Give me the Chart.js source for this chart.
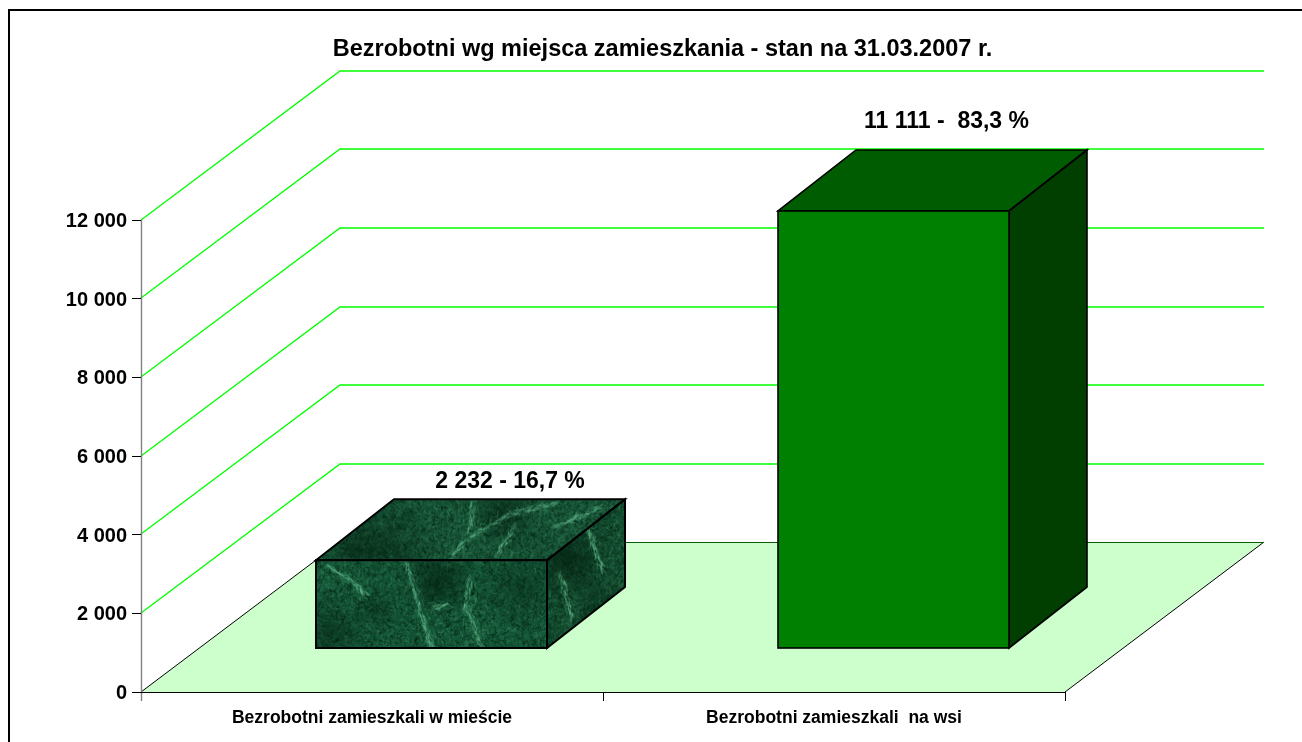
<!DOCTYPE html>
<html><head><meta charset="utf-8">
<style>html,body{margin:0;padding:0;background:#fff;overflow:hidden}canvas{display:block}</style>
<script src="https://cdn.jsdelivr.net/npm/chart.js@4"></script></head>
<body><div style="position:relative;width:1302px;height:742px"><canvas id="c" width="1302" height="742"></canvas></div>
<script>
const categories = ['Bezrobotni zamieszkali w mieście', 'Bezrobotni zamieszkali  na wsi'];
const values = [2232, 11111];
const valueLabels = ['2 232 - 16,7 %', '11 111 -  83,3 %'];
const yTicks = [0, 2000, 4000, 6000, 8000, 10000, 12000];
const titleText = 'Bezrobotni wg miejsca zamieszkania - stan na 31.03.2007 r.';

const FONT = '"Liberation Sans", Arial, sans-serif';
const DEPTH = {x: 199, y: 149};
const BAR_SHIFT = {x: 59.5, y: -44};
const BAR_DEPTH = {x: 78, y: 61};

// decorative marble texture, seeded so it is the same on every run
function marble(w, h, veins, seed, base, blotches){
  const c = document.createElement('canvas'); c.width = w; c.height = h;
  const g = c.getContext('2d');
  g.fillStyle = base; g.fillRect(0,0,w,h);
  let s = seed; const r = () => (s = (s*16807)%2147483647)/2147483647;
  g.lineCap='round';
  const n=Math.round(w*h/3);
  for(let i=0;i<n;i++){
    const x=r()*w,y=r()*h,a=r()*Math.PI*2,l=1+r()*5;
    g.strokeStyle = r()<0.55 ? `rgba(2,34,16,${.12+r()*.34})` : `rgba(70,155,108,${.05+r()*.24})`;
    g.lineWidth=.5+r()*1;
    g.beginPath();g.moveTo(x,y);g.lineTo(x+Math.cos(a)*l,y+Math.sin(a)*l);g.stroke();
  }
  blotches.forEach(([x,y,rad,a])=>{
    const gr=g.createRadialGradient(x,y,0,x,y,rad);
    gr.addColorStop(0,`rgba(2,30,14,${a})`);gr.addColorStop(1,'rgba(2,30,14,0)');
    g.fillStyle=gr;g.fillRect(0,0,w,h);
  });
  veins.forEach(v=>{
    for(let k=1;k<v.length;k++){
      const [x0,y0]=v[k-1],[x1,y1]=v[k];
      const steps=Math.hypot(x1-x0,y1-y0)*2.4;
      for(let i=0;i<steps;i++){
        const narrow=i%2===0,sp=narrow?4:13;
        const t=i/steps,x=x0+(x1-x0)*t+(r()-.5)*sp,y=y0+(y1-y0)*t+(r()-.5)*sp,l=2+r()*5;
        g.strokeStyle=narrow?`rgba(115,205,160,${.12+r()*.3})`:`rgba(90,180,135,${.05+r()*.2})`;
        g.lineWidth=.5+r()*1;
        const a=Math.atan2(y1-y0,x1-x0)+(r()-.5)*(narrow?.9:2.2);
        g.beginPath();g.moveTo(x,y);g.lineTo(x+Math.cos(a)*l,y+Math.sin(a)*l);g.stroke();
      }
    }
  });
  const o=document.createElement('canvas');o.width=w;o.height=h;
  const og=o.getContext('2d');og.filter='blur(0.7px)';og.drawImage(c,0,0);
  return o;
}
const texFront = marble(231,88,
  [[[90,0],[100,35],[112,78],[118,88]],[[116,48],[130,46]],[[155,15],[150,45],[165,85]],[[10,5],[35,20],[50,35]]],
  12345,'#15583a',[[122,22,42,.7],[15,72,40,.5],[205,30,45,.4],[60,50,28,.35]]);
const texTop = marble(309,61,
  [[[134,58],[157,35],[197,14],[240,4]],[[180,58],[197,30]],[[157,4],[154,28]],[[235,30],[285,8]]],
  777,'#175438',[[70,45,50,.45],[190,15,35,.65],[40,50,30,.5]]);
const texSide = marble(78,150,
  [[[40,25],[55,70]],[[12,70],[25,120]]],
  4242,'#134b30',[[20,60,45,.7],[60,120,40,.4]]);

function path(ctx, pts){ctx.beginPath();pts.forEach((p,i)=>i?ctx.lineTo(p[0],p[1]):ctx.moveTo(p[0],p[1]));ctx.closePath();}

const scene3d = {
  id:'scene3d',
  beforeDatasetsDraw(chart){
    const {ctx,chartArea:a,scales:{y}} = chart;
    ctx.save();
    // frame: only the top and left edges are visible
    ctx.strokeStyle='#000';ctx.lineWidth=2;
    ctx.beginPath();ctx.moveTo(9,742);ctx.lineTo(9,10);ctx.lineTo(1302,10);ctx.stroke();
    // floor
    const fy=a.bottom-DEPTH.y-1;
    const f=[[a.left,a.bottom],[a.left+DEPTH.x,fy],[a.right+DEPTH.x,fy],[a.right,a.bottom]];
    path(ctx,f);ctx.fillStyle='#ccffcc';ctx.fill();
    ctx.lineWidth=1;ctx.strokeStyle='#000';
    ctx.beginPath();
    ctx.moveTo(a.left,a.bottom);ctx.lineTo(a.left+DEPTH.x,fy);
    ctx.moveTo(a.right+DEPTH.x,fy);ctx.lineTo(a.right,a.bottom);
    ctx.stroke();
    ctx.strokeStyle='#0a5a0a';
    ctx.beginPath();ctx.moveTo(a.left+DEPTH.x,fy+.5);ctx.lineTo(a.right+DEPTH.x,fy+.5);ctx.stroke();
    // gridlines on side + back wall
    ctx.strokeStyle='#00ff00';ctx.lineWidth=1.3;
    yTicks.filter(t=>t>0).forEach(t=>{
      const py=Math.floor(y.getPixelForValue(t));
      ctx.beginPath();ctx.moveTo(a.left,py);ctx.lineTo(a.left+DEPTH.x,py-DEPTH.y);ctx.lineTo(a.right+DEPTH.x,py-DEPTH.y);ctx.stroke();
    });
    // axes
    ctx.lineWidth=1.4;
    ctx.strokeStyle='#808080';
    ctx.beginPath();ctx.moveTo(a.left+.5,a.top);ctx.lineTo(a.left+.5,a.bottom+9);ctx.stroke();
    ctx.lineWidth=1;
    ctx.strokeStyle='#000';
    ctx.beginPath();ctx.moveTo(a.left,a.bottom+.5);ctx.lineTo(a.right,a.bottom+.5);
    [(a.left+a.right)/2,a.right].forEach(x=>{x=Math.round(x)+.5;ctx.moveTo(x,a.bottom);ctx.lineTo(x,a.bottom+9);});
    yTicks.forEach(t=>{const py=Math.floor(y.getPixelForValue(t))+.5;ctx.moveTo(a.left-9,py);ctx.lineTo(a.left,py);});
    ctx.stroke();
    ctx.restore();
  },
  beforeDatasetDraw(chart){
    const {ctx}=chart;
    ctx.save();
    ctx.translate(BAR_SHIFT.x,BAR_SHIFT.y);
    chart.getDatasetMeta(0).data.forEach((b,i)=>{
      const l=b.x-b.width/2,r=b.x+b.width/2,t=b.y,bt=b.base,dx=BAR_DEPTH.x,dy=BAR_DEPTH.y;
      const top=[[l,t],[l+dx,t-dy],[r+dx,t-dy],[r,t]];
      const side=[[r,t],[r+dx,t-dy],[r+dx,bt-dy],[r,bt]];
      if(i===0){
        ctx.save();path(ctx,top);ctx.clip();ctx.drawImage(texTop,l,t-dy,r+dx-l,dy);ctx.restore();
        ctx.save();path(ctx,side);ctx.clip();ctx.drawImage(texSide,r,t-dy,dx,bt-t+dy);ctx.restore();
      } else {
        path(ctx,top);ctx.fillStyle='#005c00';ctx.fill();
        path(ctx,side);ctx.fillStyle='#003f00';ctx.fill();
      }
      ctx.lineWidth=i===0?2:1.6;ctx.strokeStyle='#000';ctx.lineJoin='miter';
      path(ctx,top);ctx.stroke();path(ctx,side);ctx.stroke();
    });
  },
  afterDatasetDraw(chart){
    const {ctx}=chart;
    chart.getDatasetMeta(0).data.forEach((b,i)=>{
      const l=b.x-b.width/2,w=b.width,t=b.y,h=b.base-b.y;
      if(i===0) ctx.drawImage(texFront,l,t,w,h);
      ctx.lineWidth=i===0?2:1.6;ctx.strokeStyle='#000';ctx.strokeRect(l,t,w,h);
    });
    ctx.restore();
    // value labels
    ctx.save();
    ctx.fillStyle='#000';ctx.font='bold 23px '+FONT;ctx.textAlign='center';ctx.textBaseline='middle';
    chart.getDatasetMeta(0).data.forEach((b,i)=>{
      const tx=b.x+BAR_SHIFT.x+BAR_DEPTH.x;
      ctx.fillText(valueLabels[i],tx+(i===0?0.5:-25),b.y+BAR_SHIFT.y-BAR_DEPTH.y-(i===0?18:28));
    });
    ctx.restore();
  }
};

new Chart(document.getElementById('c'),{
  type:'bar',
  data:{labels:categories,datasets:[{data:values,backgroundColor:['rgba(0,0,0,0)','#008000'],borderWidth:0,barPercentage:.5,categoryPercentage:1}]},
  options:{
    responsive:false,animation:false,
    layout:{padding:{left:0,right:237,top:220,bottom:0}},
    plugins:{legend:{display:false},tooltip:{enabled:false},title:{display:false}},
    scales:{
      x:{position:'bottom',grid:{display:false},border:{display:false},
         afterFit(s){s.height=50;},
         ticks:{font:{family:FONT,size:17.5,weight:'bold'},color:'#000',maxRotation:0,padding:8}},
      y:{min:0,max:12000,grid:{display:false},border:{display:false},
         afterFit(s){s.width=141;},
         ticks:{stepSize:2000,padding:6,labelOffset:1.5,color:'#000',font:{family:FONT,size:20,weight:'bold'},
           callback:v=>String(v).replace(/\B(?=(\d{3})+$)/g,' ')}}
    }
  },
  plugins:[scene3d,{id:'ttl',afterDraw(chart){const c=chart.ctx;c.save();c.fillStyle='#000';c.font='bold 23.5px '+FONT;c.textAlign='center';c.textBaseline='middle';c.fillText(titleText,662.5,50);c.restore();}}]
});
</script></body></html>
